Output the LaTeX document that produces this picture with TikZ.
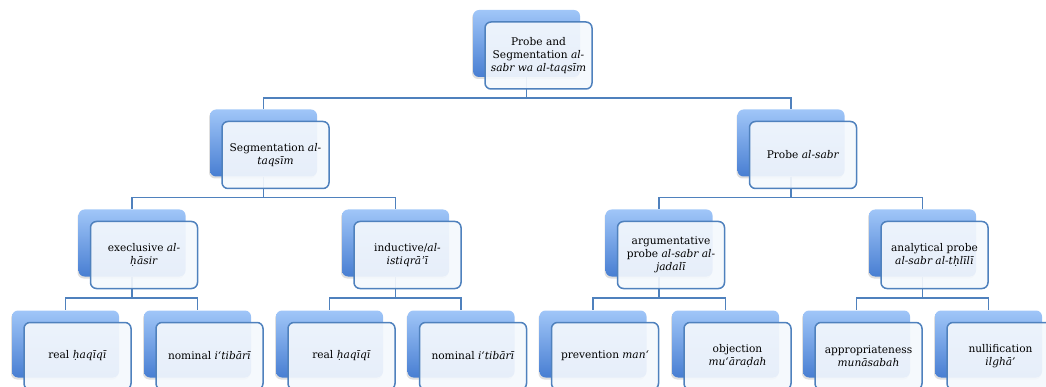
\documentclass[tikz,border=0pt]{standalone}
\usepackage{fontspec}
\setmainfont{DejaVu Serif}
\usetikzlibrary{shadows}
\definecolor{linkblue}{RGB}{79,129,189}
\definecolor{shadetop}{RGB}{160,198,248}
\definecolor{shadebot}{RGB}{72,126,210}
\definecolor{cardfill}{RGB}{244,248,253}

\begin{document}
\begin{tikzpicture}[x=1pt,y=-1pt,
backbox/.style={rectangle,rounded corners=6pt,minimum width=107pt,minimum height=67pt,
  top color=shadetop,bottom color=shadebot,
  drop shadow={shadow xshift=-1pt,shadow yshift=-2pt,opacity=0.25}},
frontbox/.style={rectangle,rounded corners=6pt,draw=linkblue,line width=1.5pt,
  fill=cardfill,fill opacity=0.92,text opacity=1,minimum width=107pt,minimum height=67pt,
  font=\fontsize{10.6}{13}\selectfont,align=center},
link/.style={draw=linkblue,line width=1.6pt}]
\useasboundingbox (0,0) rectangle (1046,387);
\clip (0,0) rectangle (1046,387);
% back boxes
\node[backbox] (top) at (526.5,43.5) {};
\node[backbox] (seg) at (263.5,143) {};
\node[backbox] (probe) at (791,143) {};
\node[backbox] (exe) at (132,243) {};
\node[backbox] (ind) at (395.5,243) {};
\node[backbox] (arg) at (659,243) {};
\node[backbox] (ana) at (922.5,243) {};
\node[backbox] (real1) at (65.5,344) {};
\node[backbox] (nom1) at (197.5,344) {};
\node[backbox] (real2) at (329.5,344) {};
\node[backbox] (nom2) at (461,344) {};
\node[backbox] (prev) at (593,344) {};
\node[backbox] (obj) at (725.5,344) {};
\node[backbox] (appr) at (856.5,344) {};
\node[backbox] (nullif) at (988.5,344) {};
% connectors
\draw[link] (top.south) -- ++(0,21) -| (seg.north);
\draw[link] (top.south) -- ++(0,21) -| (probe.north);
\draw[link] (seg.south) -- ++(0,21) -| (exe.north);
\draw[link] (seg.south) -- ++(0,21) -| (ind.north);
\draw[link] (probe.south) -- ++(0,21) -| (arg.north);
\draw[link] (probe.south) -- ++(0,21) -| (ana.north);
\draw[link] (exe.south) -- ++(0,21) -| (real1.north);
\draw[link] (exe.south) -- ++(0,21) -| (nom1.north);
\draw[link] (ind.south) -- ++(0,21) -| (real2.north);
\draw[link] (ind.south) -- ++(0,21) -| (nom2.north);
\draw[link] (arg.south) -- ++(0,21) -| (prev.north);
\draw[link] (arg.south) -- ++(0,21) -| (obj.north);
\draw[link] (ana.south) -- ++(0,21) -| (appr.north);
\draw[link] (ana.south) -- ++(0,21) -| (nullif.north);
% front boxes
\node[frontbox] (top f) at ([shift={(12,12)}]top.center) {Probe and\\Segmentation \textit{al-}\\\textit{sabr wa al-taqsīm}};
\node[frontbox] (seg f) at ([shift={(12,12)}]seg.center) {Segmentation \textit{al-}\\\textit{taqsīm}};
\node[frontbox] (probe f) at ([shift={(12,12)}]probe.center) {Probe \textit{al-sabr}};
\node[frontbox] (exe f) at ([shift={(12,12)}]exe.center) {execlusive \textit{al-}\\\textit{ḥāsir}};
\node[frontbox] (ind f) at ([shift={(12,12)}]ind.center) {inductive/\textit{al-}\\\textit{istiqrāʾī}};
\node[frontbox] (arg f) at ([shift={(12,12)}]arg.center) {argumentative\\probe \textit{al-sabr al-}\\\textit{jadalī}};
\node[frontbox] (ana f) at ([shift={(12,12)}]ana.center) {analytical probe\\\textit{al-sabr al-tḥlīlī}};
\node[frontbox] (real1 f) at ([shift={(12,12)}]real1.center) {real \textit{ḥaqīqī}};
\node[frontbox] (nom1 f) at ([shift={(12,12)}]nom1.center) {nominal \textit{i‘tibārī}};
\node[frontbox] (real2 f) at ([shift={(12,12)}]real2.center) {real \textit{ḥaqīqī}};
\node[frontbox] (nom2 f) at ([shift={(12,12)}]nom2.center) {nominal \textit{i‘tibārī}};
\node[frontbox] (prev f) at ([shift={(12,12)}]prev.center) {prevention \textit{man‘}};
\node[frontbox] (obj f) at ([shift={(12,12)}]obj.center) {objection\\\textit{mu‘āraḍah}};
\node[frontbox] (appr f) at ([shift={(12,12)}]appr.center) {appropriateness\\\textit{munāsabah}};
\node[frontbox] (nullif f) at ([shift={(12,12)}]nullif.center) {nullification\\\textit{ilghā’}};
\end{tikzpicture}
\end{document}
